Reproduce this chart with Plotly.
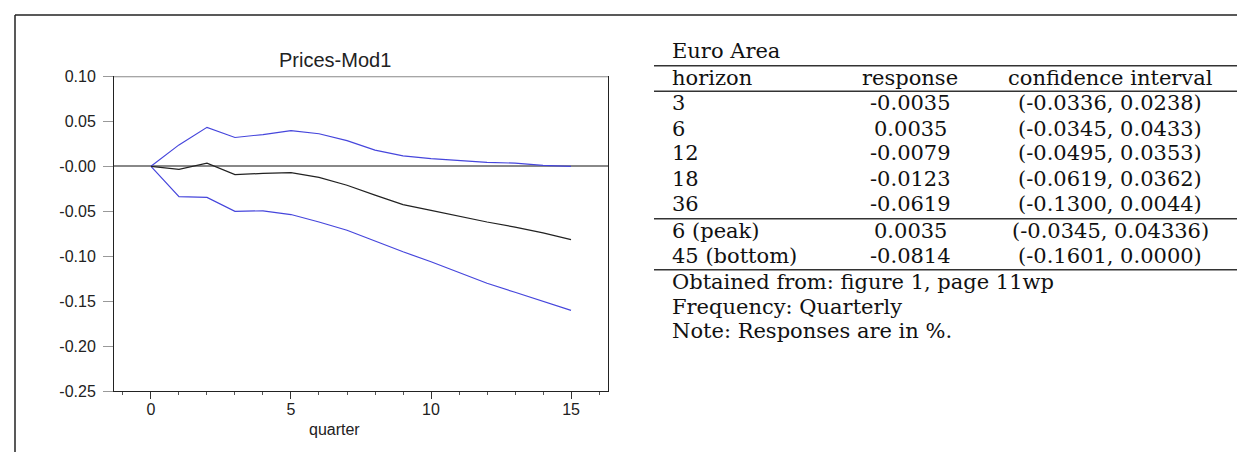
import plotly.graph_objects as go

W, H = 1245, 452

# ---------------- data ----------------
quarters = list(range(16))
response = [0.0, -0.0035, 0.0035, -0.0092, -0.0079, -0.0071, -0.0123, -0.0210,
            -0.0320, -0.0425, -0.0490, -0.0555, -0.0619, -0.0675, -0.0740, -0.0814]
upper = [0.0, 0.0238, 0.0433, 0.0320, 0.0353, 0.0396, 0.0362, 0.0285,
         0.0180, 0.0115, 0.0085, 0.0063, 0.0044, 0.0035, 0.0010, 0.0000]
lower = [0.0, -0.0336, -0.0345, -0.0500, -0.0495, -0.0536, -0.0619, -0.0710,
         -0.0830, -0.0950, -0.1060, -0.1180, -0.1300, -0.1400, -0.1500, -0.1601]

y_tickvals = [0.10, 0.05, 0.0, -0.05, -0.10, -0.15, -0.20, -0.25]
y_ticktext = ["0.10", "0.05", "-0.00", "-0.05", "-0.10", "-0.15", "-0.20", "-0.25"]
x_tickvals = [0, 5, 10, 15]

table_title = "Euro Area"
table_header = ["horizon", "response", "confidence interval"]
horizons = ["3", "6", "12", "18", "36"]
responses = ["-0.0035", "0.0035", "-0.0079", "-0.0123", "-0.0619"]
intervals = ["(-0.0336, 0.0238)", "(-0.0345, 0.0433)", "(-0.0495, 0.0353)",
             "(-0.0619, 0.0362)", "(-0.1300, 0.0044)"]
extreme_horizons = ["6 (peak)", "45 (bottom)"]
extreme_responses = ["0.0035", "-0.0814"]
extreme_intervals = ["(-0.0345, 0.04336)", "(-0.1601, 0.0000)"]
notes = ["Obtained from: figure 1, page 11wp", "Frequency: Quarterly",
         "Note: Responses are in %."]


def px_x(x):
    return x / W


def px_y(y):
    return 1 - y / H


fig = go.Figure()
fig.add_trace(go.Scatter(x=quarters, y=upper, mode="lines",
                         line=dict(color="#4646dc", width=1.2), showlegend=False))
fig.add_trace(go.Scatter(x=quarters, y=lower, mode="lines",
                         line=dict(color="#4646dc", width=1.2), showlegend=False))
fig.add_trace(go.Scatter(x=quarters, y=response, mode="lines",
                         line=dict(color="#222222", width=1.2), showlegend=False))

sans = "Liberation Sans, Arial, sans-serif"
serif = "DejaVu Serif, serif"

fig.update_layout(
    width=W, height=H,
    margin=dict(l=0, r=0, t=0, b=0),
    paper_bgcolor="white", plot_bgcolor="white",
    xaxis=dict(domain=[px_x(106), px_x(600)], range=[-1.32, 16.32],
               tickvals=x_tickvals, ticks="outside", ticklen=7, tickcolor="#333",
               showline=True, linecolor="#222", linewidth=1,
               showgrid=False, zeroline=False, automargin=False,
               ticklabelstandoff=-4,
               tickfont=dict(family=sans, size=16, color="#222"),
               minor=dict(dtick=1, ticks="outside", ticklen=3, tickcolor="#555",
                          showgrid=False)),
    yaxis=dict(domain=[px_y(383.3), px_y(68.3)], range=[-0.25, 0.10],
               tickvals=y_tickvals, ticktext=y_ticktext,
               ticks="outside", ticklen=10, tickcolor="#999",
               showline=True, linecolor="#222", linewidth=1, mirror=True,
               showgrid=False, zeroline=True, zerolinecolor="#888", zerolinewidth=2,
               automargin=False, ticklabelstandoff=4,
               tickfont=dict(family=sans, size=16, color="#222")),
)

# top border of the plot box (grey)
fig.add_shape(type="line", xref="x domain", yref="y", x0=0, x1=1, y0=0.10, y1=0.10,
              line=dict(color="#888", width=2))

# chart title and x-axis title
fig.add_annotation(text="Prices-Mod1", xref="paper", yref="paper",
                   x=px_x(327), y=px_y(52), xanchor="center", yanchor="middle",
                   showarrow=False, font=dict(family=sans, size=20, color="#222"))
fig.add_annotation(text="quarter", xref="paper", yref="paper",
                   x=px_x(326), y=px_y(421), xanchor="center", yanchor="middle",
                   showarrow=False, font=dict(family=sans, size=16, color="#222"))

# outer frame (top and left)
fig.add_shape(type="line", xref="paper", yref="paper", x0=px_x(7), x1=1,
              y0=px_y(7), y1=px_y(7), line=dict(color="#222", width=1.5))
fig.add_shape(type="line", xref="paper", yref="paper", x0=px_x(7), x1=px_x(7),
              y0=px_y(7), y1=0, line=dict(color="#222", width=1.5))

# ---------------- table ----------------
tsize = 21
col_left, col_resp, col_ci = 662, 902, 1102
rule_l, rule_r = 646, 1230


def txt(s, x, y, anchor="left"):
    fig.add_annotation(text=s, xref="paper", yref="paper", x=px_x(x), y=px_y(y),
                       xanchor=anchor, yanchor="middle", showarrow=False,
                       font=dict(family=serif, size=tsize, color="#111"))


def rule(y):
    fig.add_shape(type="line", xref="paper", yref="paper", x0=px_x(rule_l), x1=px_x(rule_r),
                  y0=px_y(y), y1=px_y(y), line=dict(color="#333", width=1.5))


txt(table_title, col_left, 43)
rule(57.7)
txt(table_header[0], col_left, 70)
txt(table_header[1], col_resp, 70, "center")
txt(table_header[2], col_ci, 70, "center")
rule(83.3)
row_y = [95.5, 120.5, 145.5, 170.5, 195.5]
for h, r, c, y in zip(horizons, responses, intervals, row_y):
    txt(h, col_left, y)
    txt(r, col_resp, y, "center")
    txt(c, col_ci, y, "center")
rule(210.7)
ext_y = [222.5, 247.5]
for h, r, c, y in zip(extreme_horizons, extreme_responses, extreme_intervals, ext_y):
    txt(h, col_left, y)
    txt(r, col_resp, y, "center")
    txt(c, col_ci, y, "center")
rule(261.7)
for s, y in zip(notes, [274, 298.5, 323]):
    txt(s, col_left, y)

fig.write_html("out.html")
